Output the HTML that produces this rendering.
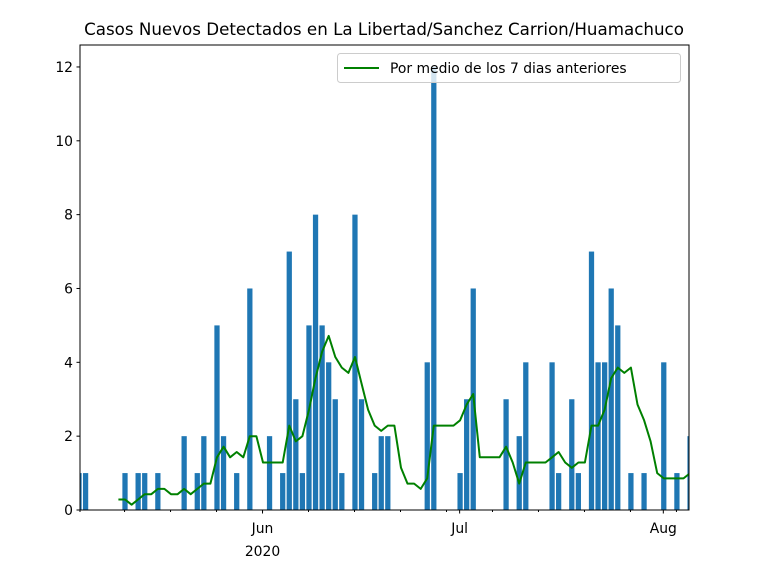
<!DOCTYPE html>
<html><head><meta charset="utf-8"><style>
body{margin:0;background:#fff}
svg{display:block;font-family:"DejaVu Sans","Liberation Sans",sans-serif}
</style></head><body>
<svg id="chart" width="768" height="576" xmlns="http://www.w3.org/2000/svg">
<rect width="768" height="576" fill="#fff"/>
<text x="384" y="35" text-anchor="middle" font-size="16.7">Casos Nuevos Detectados en La Libertad/Sanchez Carrion/Huamachuco</text>
<defs><clipPath id="clip"><rect x="80" y="45" width="609" height="465"/></clipPath></defs>
<g id="bars" clip-path="url(#clip)"></g>
<g id="lineg" clip-path="url(#clip)"></g>
<g id="axes"></g>
<g>
<rect x="337.5" y="53.5" width="343" height="29" rx="3" fill="#fff" fill-opacity="0.8" stroke="#ccc"/>
<line x1="344" y1="68" x2="379" y2="68" stroke="#008000" stroke-width="2"/>
<text x="390" y="73" font-size="13.9">Por medio de los 7 dias anteriores</text>
</g>
</svg>
<script>
// day index 0 = May 4 2020
const days = [0,1,7,9,10,12,16,18,19,21,22,24,26,29,31,32,33,34,35,36,37,38,39,40,42,43,45,46,47,53,54,58,59,60,65,67,68,72,73,75,76,78,79,80,81,82,84,86,89,91,93];
const cases = [1,1,1,1,1,1,2,1,2,5,2,1,6,2,1,7,3,1,5,8,5,4,3,1,8,3,1,2,2,4,12,1,3,6,3,2,4,4,1,3,1,7,4,4,6,5,1,1,4,1,2];
const yTicks = [0,2,4,6,8,10,12];
const xMajor = [{d:27.93,label:"Jun",sub:"2020"},{d:57.93,label:"Jul",sub:""},{d:88.93,label:"Aug",sub:""}];
const xMinorStart = -0.07, xMinorStep = 7;
const nDays = 94;

const NS="http://www.w3.org/2000/svg";
const X0=80,X1=689,Y0=510,Y1=45;
const dMin=0.15,dMax=92.84;
function xs(d){return X0+(d-dMin)/(dMax-dMin)*(X1-X0);}
function ys(v){return Y0-v*36.92;}
function mk(t,a,p){const e=document.createElementNS(NS,t);for(const k in a)e.setAttribute(k,a[k]);p.appendChild(e);return e;}

const bars=document.getElementById('bars');
const bw=0.8*(xs(1)-xs(0));
days.forEach((d,i)=>{
  const r=mk('rect',{x:xs(d)-bw/2,y:ys(cases[i]),width:bw,height:Y0-ys(cases[i]),fill:'#1f77b4'},bars);
  
  
});
const full=new Array(nDays).fill(0);
days.forEach((d,i)=>{full[d]=cases[i];});
let pts=[];
for(let d=6;d<nDays;d++){let s=0;for(let k=d-6;k<=d;k++)s+=full[k];pts.push(xs(d).toFixed(1)+','+ys(s/7).toFixed(1));}
const pl=mk('polyline',{points:pts.join(' '),fill:'none',stroke:'#008000','stroke-width':2,'stroke-linejoin':'round'},document.getElementById('lineg'));



const ax=document.getElementById('axes');
const frame=mk('rect',{x:X0,y:Y1,width:X1-X0,height:Y0-Y1,fill:'none',stroke:'#000','stroke-width':1},ax);


yTicks.forEach(v=>{
  mk('line',{x1:X0-3.5,x2:X0,y1:ys(v),y2:ys(v),stroke:'#000'},ax);
  const t=mk('text',{x:X0-7,y:ys(v)+5,'text-anchor':'end','font-size':13.9},ax);
  t.textContent=v;
  
  
});
mk('line',{x1:X0,x2:X0,y1:Y0,y2:Y0+2,stroke:'#000'},ax);
for(let d=xMinorStart;d<=dMax;d+=xMinorStep){
  if(d<dMin)continue;
  mk('line',{x1:xs(d),x2:xs(d),y1:Y0,y2:Y0+2,stroke:'#000'},ax);
}
xMajor.forEach(m=>{
  const x=xs(m.d);
  mk('line',{x1:x,x2:x,y1:Y0,y2:Y0+3.5,stroke:'#000'},ax);
  const t=mk('text',{x:x,y:Y0+23,'text-anchor':'middle','font-size':13.9},ax);
  t.textContent=m.label;
  
  
  if(m.sub){const s=mk('text',{x:x,y:Y0+46,'text-anchor':'middle','font-size':13.9},ax);s.textContent=m.sub;
    
    }
});
</script>
</body></html>
